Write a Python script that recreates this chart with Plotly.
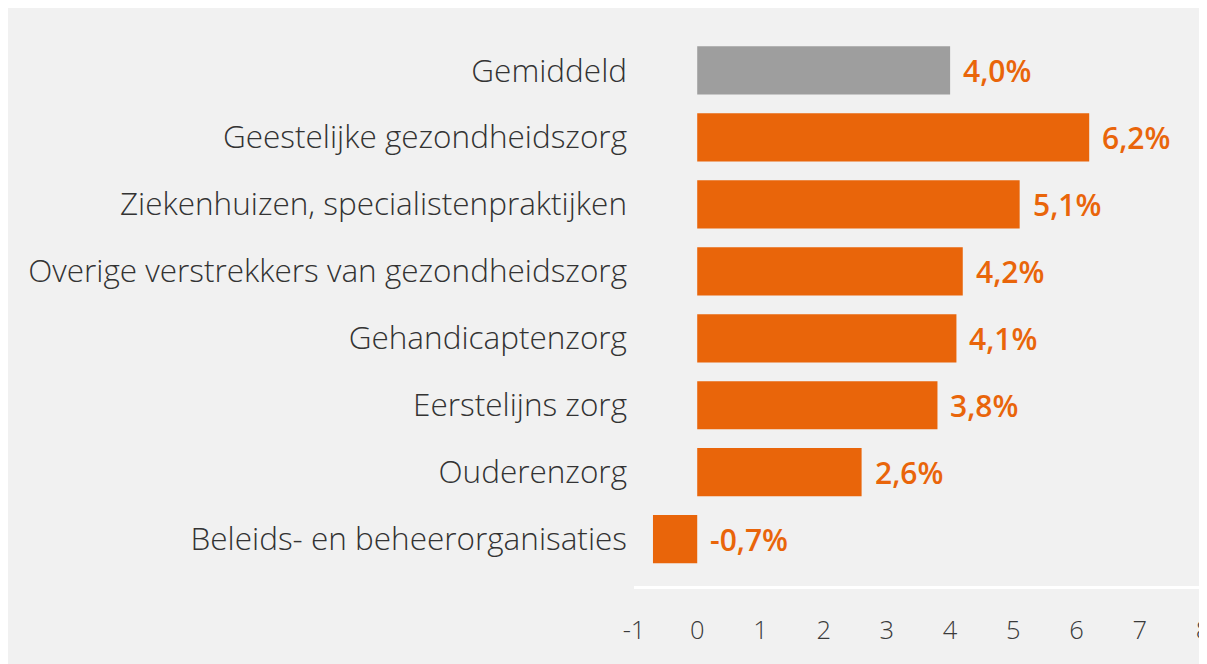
import plotly.graph_objects as go

categories = [
    "Gemiddeld",
    "Geestelijke gezondheidszorg",
    "Ziekenhuizen, specialistenpraktijken",
    "Overige verstrekkers van gezondheidszorg",
    "Gehandicaptenzorg",
    "Eerstelijns zorg",
    "Ouderenzorg",
    "Beleids- en beheerorganisaties",
]
values = [4.0, 6.2, 5.1, 4.2, 4.1, 3.8, 2.6, -0.7]
x_ticks = [-1, 0, 1, 2, 3, 4, 5, 6, 7, 8]

ORANGE = "#E9650A"
GRAY = "#9E9E9E"
BG = "#F1F1F1"

colors = [GRAY] + [ORANGE] * (len(values) - 1)
labels = [f"{v:.1f}%".replace(".", ",") for v in values]

fig = go.Figure()
fig.add_trace(go.Bar(
    x=values, y=categories, orientation="h",
    marker=dict(color=colors, line=dict(width=0)),
    hoverinfo="skip",
))

for cat, v, lab in zip(categories, values, labels):
    fig.add_annotation(
        x=max(v, 0), y=cat, text=lab, showarrow=False,
        xanchor="left", yanchor="middle", xshift=11,
        font=dict(family="Open Sans", size=30, color=ORANGE, weight=600),
    )

W, H = 1207, 664
L, R, T, B = 626, 12, 29, 86

fig.update_layout(
    width=W, height=H,
    margin=dict(l=L, r=R, t=T, b=B, pad=0, autoexpand=False),
    paper_bgcolor=BG,
    plot_bgcolor=BG,
    showlegend=False,
    bargap=0.28,
    font=dict(family="Open Sans", color="#333333"),
)
fig.update_xaxes(
    range=[-1, 8], tickvals=x_ticks, ticktext=[str(t) for t in x_ticks],
    showgrid=False, zeroline=False, automargin=False,
    showline=True, linecolor="white", linewidth=3,
    ticks="", ticklabelstandoff=19, ticklabeloverflow="allow",
    tickfont=dict(family="Open Sans", size=25.5, color="#3A3A3A", weight=300),
)
fig.update_yaxes(
    categoryorder="array", categoryarray=categories,
    range=[7.7, -0.5], automargin=False,
    showgrid=False, zeroline=False, showline=False,
    ticks="", ticklabelstandoff=6,
    tickfont=dict(family="Open Sans", size=31.5, color="#333333", weight=300),
)

fig.write_html("out.html")
